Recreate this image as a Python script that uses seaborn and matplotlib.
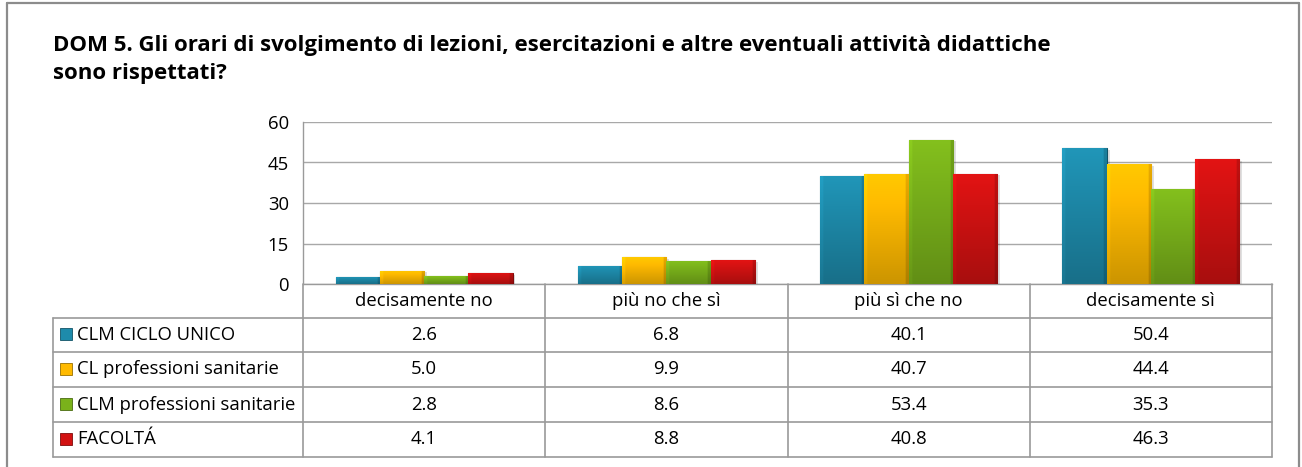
import numpy as np
import pandas as pd
import matplotlib.pyplot as plt
import matplotlib.colors as mcolors
from matplotlib.lines import Line2D
from matplotlib.patches import Rectangle
import seaborn as sns

# categorie e serie
categories = ['decisamente no', 'più no che sì', 'più sì che no', 'decisamente sì']
series_names = ['CLM CICLO UNICO', 'CL professioni sanitarie',
                'CLM professioni sanitarie', 'FACOLTÁ']
clm_ciclo_unico = [2.6, 6.8, 40.1, 50.4]
cl_prof_sanitarie = [5.0, 9.9, 40.7, 44.4]
clm_prof_sanitarie = [2.8, 8.6, 53.4, 35.3]
facolta = [4.1, 8.8, 40.8, 46.3]
series_colors = ['#1E8BAB', '#FFBA00', '#7AB21B', '#D21212']
y_ticks = [0, 15, 30, 45, 60]

title_1 = 'DOM 5. Gli orari di svolgimento di lezioni, esercitazioni e altre eventuali attività didattiche'
title_2 = 'sono rispettati?'

values = [clm_ciclo_unico, cl_prof_sanitarie, clm_prof_sanitarie, facolta]
df = pd.DataFrame({
    'Categoria': np.tile(categories, len(series_names)),
    'Serie': np.repeat(series_names, len(categories)),
    'Valore': np.concatenate(values),
})

sns.set_style('white')
plt.rcParams['font.family'] = ['Open Sans', 'DejaVu Sans']
plt.rcParams['text.color'] = 'black'
plt.rcParams['ytick.labelcolor'] = 'black'
FS = 13.3

W, H = 1302, 467
fig = plt.figure(figsize=(W / 100, H / 100), dpi=100)


def fx(px):
    return px / W


def fy(py):
    return 1 - py / H


ax = fig.add_axes([fx(303), fy(284), (1272 - 303) / W, (284 - 122) / H])
sns.barplot(data=df, x='Categoria', y='Valore', hue='Serie', palette=series_colors,
            width=0.73, saturation=1, legend=False, ax=ax, zorder=3)

# gradiente sulle barre (effetto rilievo)
for patch in list(ax.patches):
    x0, w, h = patch.get_x(), patch.get_width(), patch.get_height()
    if h <= 0:
        continue
    base = np.array(mcolors.to_rgb(patch.get_facecolor()))
    t = np.linspace(0, 1, 60)[:, None]
    vert = 1.08 - 0.28 * t
    s = np.linspace(0, 1, 40)[None, :]
    horiz = np.where(s < 0.07, 1.06, np.where(s > 0.93, 0.85, 1.0))
    grad = np.clip(base[None, None, :] * (vert * horiz)[:, :, None], 0, 1)
    im = ax.imshow(grad, extent=[x0, x0 + w, 0, h], origin='upper', aspect='auto',
                   zorder=patch.get_zorder() + 0.1)
    im.set_clip_path(patch)
    patch.set_edgecolor(mcolors.to_hex(base * 0.6))
    patch.set_linewidth(0.8)
    # ombra leggera
    ax.add_patch(Rectangle((x0 + 0.012, -0.6), w, h, facecolor='#000000', alpha=0.12,
                           lw=0, zorder=2))

ax.set_xlim(-0.5, 3.5)
ax.set_ylim(0, 60)
ax.set_yticks(y_ticks)
ax.yaxis.grid(True, color='#A8A8A8', lw=1)
ax.set_axisbelow(True)
ax.set_xlabel('')
ax.set_ylabel('')
ax.set_xticks([])
ax.tick_params(axis='y', labelsize=FS, length=4, color='#9A9A9A', pad=6)
for side in ['top', 'right']:
    ax.spines[side].set_visible(False)
for side in ['left', 'bottom']:
    ax.spines[side].set_color('#9A9A9A')
    ax.spines[side].set_linewidth(1)

# tabella dati sotto il grafico
line_kw = dict(color='#9A9A9A', lw=1.2)
col_edges = [303 + i * (1272 - 303) / len(categories) for i in range(len(categories) + 1)]
row_edges = [318, 352, 387, 422, 457]
for xe in col_edges:
    fig.add_artist(Line2D([fx(xe), fx(xe)], [fy(284), fy(457)], **line_kw))
fig.add_artist(Line2D([fx(53), fx(53)], [fy(318), fy(457)], **line_kw))
for ye in row_edges:
    fig.add_artist(Line2D([fx(53), fx(1272)], [fy(ye), fy(ye)], **line_kw))

for i, cat in enumerate(categories):
    xc = (col_edges[i] + col_edges[i + 1]) / 2
    fig.text(fx(xc), fy(301), cat, ha='center', va='center', fontsize=FS)
for r, (name, vals, col) in enumerate(zip(series_names, values, series_colors)):
    yc = (row_edges[r] + row_edges[r + 1]) / 2
    sq = Rectangle((fx(60), fy(yc + 5)), 12 / W, 12 / H, transform=fig.transFigure,
                   facecolor=col, edgecolor=mcolors.to_hex(np.array(mcolors.to_rgb(col)) * 0.6),
                   lw=0.6)
    fig.add_artist(sq)
    fig.text(fx(77), fy(yc), name, ha='left', va='center', fontsize=FS)
    for i, v in enumerate(vals):
        xc = (col_edges[i] + col_edges[i + 1]) / 2
        fig.text(fx(xc), fy(yc), f'{v:.1f}', ha='center', va='center', fontsize=FS)

# titolo
fig.text(fx(53), fy(51), title_1, ha='left', va='baseline', fontsize=16, fontweight='bold')
fig.text(fx(53), fy(79), title_2, ha='left', va='baseline', fontsize=16, fontweight='bold')

# cornice esterna
border_kw = dict(color='#8C8C8C', lw=1.6)
fig.add_artist(Line2D([fx(7), fx(7)], [fy(3), 0], **border_kw))
fig.add_artist(Line2D([fx(1299), fx(1299)], [fy(3), 0], **border_kw))
fig.add_artist(Line2D([fx(7), fx(1299)], [fy(3), fy(3)], **border_kw))

fig.savefig('out.png', dpi=100, facecolor='white')
